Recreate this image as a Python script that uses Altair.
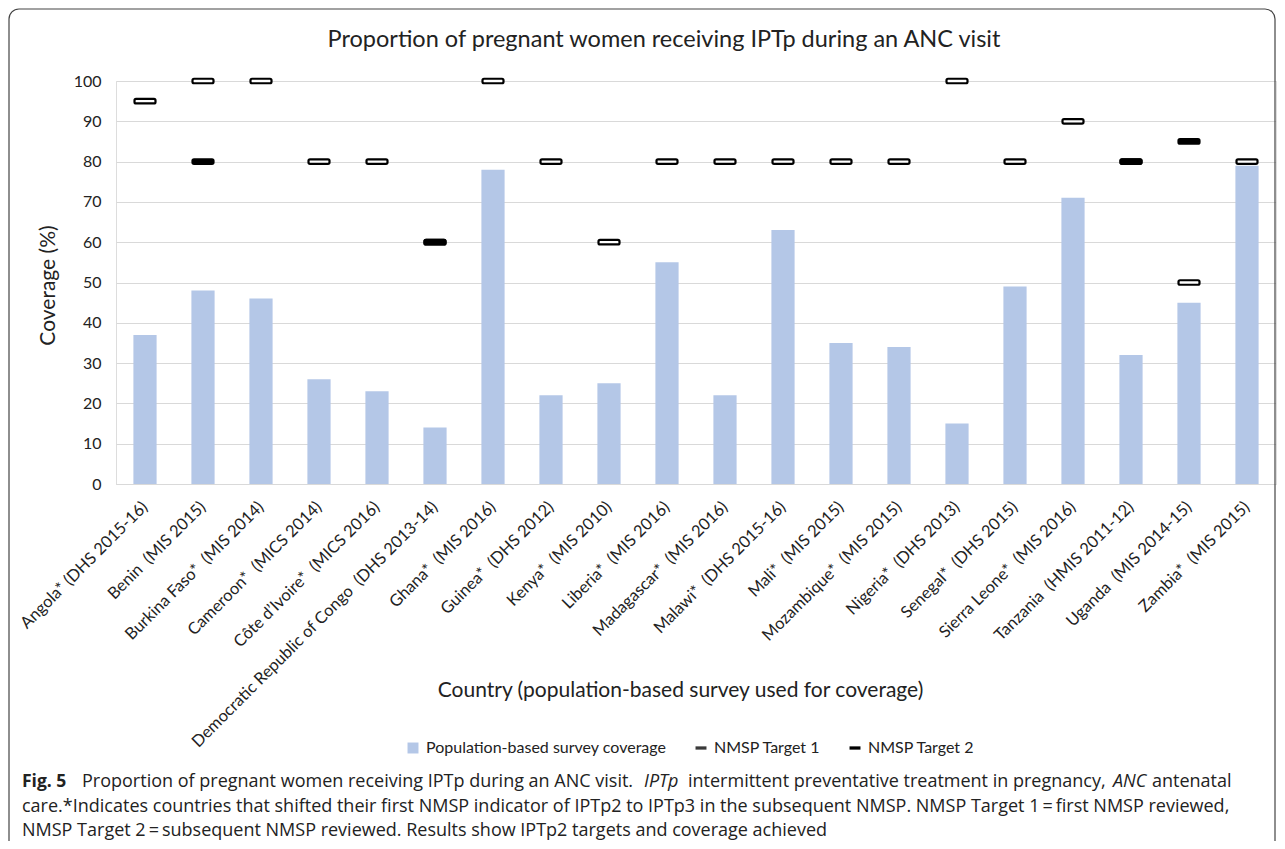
import altair as alt
import pandas as pd

countries = [
    "Angola* (DHS 2015-16)",
    "Benin\u00a0 (MIS 2015)",
    "Burkina Faso*\u00a0 (MIS 2014)",
    "Cameroon*\u00a0 (MICS 2014)",
    "Côte d’Ivoire*\u00a0 (MICS 2016)",
    "Democratic Republic of Congo\u00a0 (DHS 2013-14)",
    "Ghana*\u00a0 (MIS 2016)",
    "Guinea*\u00a0 (DHS 2012)",
    "Kenya*\u00a0 (MIS 2010)",
    "Liberia*\u00a0 (MIS 2016)",
    "Madagascar*\u00a0 (MIS 2016)",
    "Malawi*\u00a0 (DHS 2015-16)",
    "Mali*\u00a0 (MIS 2015)",
    "Mozambique*\u00a0 (MIS 2015)",
    "Nigeria*\u00a0 (DHS 2013)",
    "Senegal*\u00a0 (DHS 2015)",
    "Sierra Leone*\u00a0 (MIS 2016)",
    "Tanzania\u00a0 (HMIS 2011-12)",
    "Uganda\u00a0 (MIS 2014-15)",
    "Zambia*\u00a0 (MIS 2015)",
]
coverage = [37, 48, 46, 26, 23, 14, 78, 22, 25, 55, 22, 63, 35, 34, 15, 49, 71, 32, 45, 79]
target1 = [95, 100, 100, 80, 80, 60, 100, 80, 60, 80, 80, 80, 80, 80, 100, 80, 90, 80, 50, 80]
target2 = [None, 80, None, None, None, 60, None, None, None, None, None, None, None, None, None,
           None, None, 80, 85, None]
y_ticks = list(range(0, 101, 10))
legend_labels = ["Population-based survey coverage", "NMSP Target 1", "NMSP Target 2"]

chart_title = "Proportion of pregnant women receiving IPTp during an ANC visit"
x_title = "Country (population-based survey used for coverage)"
y_title = "Coverage (%)"
cap1_parts = [
    ("Fig. 5", "bold", "normal"),
    ("Proportion of pregnant women receiving IPTp during an ANC visit.", "normal", "normal"),
    ("IPTp", "normal", "italic"),
    ("intermittent preventative treatment in pregnancy,", "normal", "normal"),
    ("ANC", "normal", "italic"),
    ("antenatal", "normal", "normal"),
]
cap1_x = [-94, -34, 528, 572, 997, 1036]
cap2 = ("care.*Indicates countries that shifted their first NMSP indicator of IPTp2 to IPTp3 "
        "in the subsequent NMSP. NMSP Target 1\u2009=\u2009first NMSP reviewed,")
cap3 = "NMSP Target 2\u2009=\u2009subsequent NMSP reviewed. Results show IPTp2 targets and coverage achieved"

df = pd.DataFrame({"country": countries, "coverage": coverage, "t1": target1, "t2": target2})

W, H = 1160, 403
TXT = "#222222"
FONT = "Lato"
CAPFONT = "Open Sans"
CAPSIZE = 18

xscale = alt.Scale(paddingInner=0.6, paddingOuter=0.3)
xaxis = alt.Axis(
    title=x_title, labelAngle=-45, labelAlign="right", labelBaseline="middle",
    labelPadding=20, labelFont=FONT, labelFontSize=16.5, labelColor=TXT,
    labelLimit=600, labelOverlap=False, ticks=False, domainColor="#d9d9d9",
    titleFont=FONT, titleFontSize=21, titleFontWeight="normal", titleColor=TXT,
    titleX=564, titleY=206, titleAlign="center", titleBaseline="middle",
)
yscale = alt.Scale(domain=[0, 100], nice=False)
yaxis = alt.Axis(
    title=y_title, values=y_ticks, grid=True, gridColor="#d9d9d9", domain=False,
    ticks=False, labelPadding=15, labelFont=FONT, labelFontSize=16, labelColor=TXT,
    titleFont=FONT, titleFontSize=21, titleFontWeight="normal", titleColor=TXT,
    titleX=-68, titleY=204, titleAngle=-90, titleAlign="center", titleBaseline="middle",
)

base = alt.Chart(df)
bars = base.mark_bar(color="#b4c7e7").encode(
    x=alt.X("country:N", sort=None, scale=xscale, axis=xaxis),
    y=alt.Y("coverage:Q", scale=yscale, axis=yaxis),
)
t1_layer = base.mark_tick(orient="horizontal", size=21, thickness=4.5, fill="white",
                          stroke="black", strokeWidth=2.2, cornerRadius=1.5, opacity=1).encode(
    x=alt.X("country:N", sort=None),
    y=alt.Y("t1:Q", title=y_title),
)
t2_layer = base.transform_filter("isValid(datum.t2)").mark_tick(
    orient="horizontal", size=21, thickness=4.5, fill="black", stroke="black",
    strokeWidth=2.2, cornerRadius=1.5, opacity=1).encode(
    x=alt.X("country:N", sort=None),
    y=alt.Y("t2:Q", title=y_title),
)

dash = "M-1,-0.3H1V0.3H-1Z"
leg = alt.Legend(title=None, orient="none", legendX=289, legendY=659, direction="horizontal",
                 labelFont=FONT, labelFontSize=16, labelColor=TXT, labelLimit=400,
                 symbolSize=120, symbolStrokeWidth=0, labelOffset=5, columnPadding=26,
                 padding=0)
legend_layer = alt.Chart(alt.Data(values=[])).mark_point(filled=True, opacity=1).encode(
    color=alt.Color("s:N", scale=alt.Scale(domain=legend_labels,
                                           range=["#b4c7e7", "#3a3a3a", "#000000"]), legend=leg),
    shape=alt.Shape("s:N", scale=alt.Scale(domain=legend_labels,
                                           range=["square", dash, dash]), legend=leg),
)

one = alt.Data(values=[{"k": 1}])
frame = alt.Chart(one).mark_rect(filled=False, stroke="#444444", strokeWidth=1.2,
                                 cornerRadius=10).encode(
    x=alt.value(-107), x2=alt.value(1159), y=alt.value(-72), y2=alt.value(900))

title_layer = alt.Chart(one).mark_text(font=FONT, fontSize=23.5, color=TXT, align="center",
                                       baseline="middle").encode(
    x=alt.value(548), y=alt.value(-41), text=alt.value(chart_title))

cap_layers = []
for (txt, wt, st), xx in zip(cap1_parts, cap1_x):
    cap_layers.append(alt.Chart(one).mark_text(
        font=CAPFONT, fontSize=17.5 if wt == "bold" else CAPSIZE, fontWeight=wt, fontStyle=st,
        color=TXT, align="left", baseline="middle").encode(
        x=alt.value(xx), y=alt.value(701), text=alt.value(txt)))
for txt, yy in [(cap2, 726), (cap3, 750)]:
    cap_layers.append(alt.Chart(one).mark_text(
        font=CAPFONT, fontSize=CAPSIZE, color=TXT, align="left", baseline="middle").encode(
        x=alt.value(-94), y=alt.value(yy), text=alt.value(txt)))

chart = alt.layer(frame, bars, t1_layer, t2_layer, legend_layer, title_layer, *cap_layers).properties(
    width=W, height=H,
    autosize=alt.AutoSizeParams(type="none"),
    padding={"left": 108, "top": 73, "right": 1, "bottom": 357},
).configure_view(stroke=None).configure(background="white")

chart.save("out.html", embed_options={"renderer": "svg", "actions": False})
